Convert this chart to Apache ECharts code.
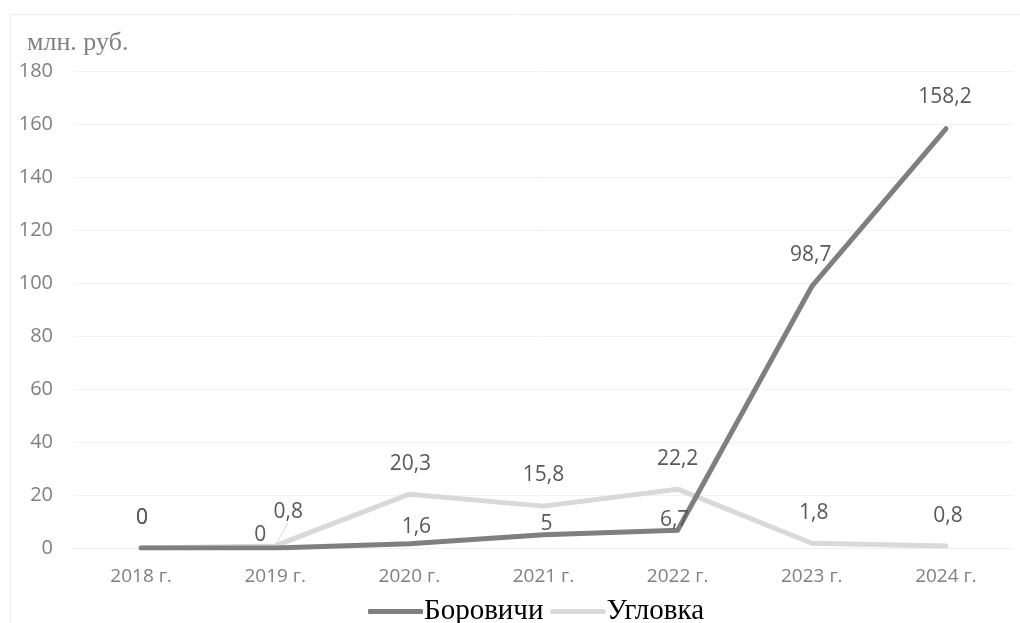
<!DOCTYPE html>
<html>
<head>
<meta charset="utf-8">
<script src="https://cdn.jsdelivr.net/npm/echarts@6/dist/echarts.min.js"></script>
<style>
html,body{margin:0;padding:0;background:#fff;}
#chart{width:1020px;height:623px;}
</style>
</head>
<body>
<div id="chart"></div>
<script>
const categories = ['2018 г.', '2019 г.', '2020 г.', '2021 г.', '2022 г.', '2023 г.', '2024 г.'];
const borovichi = [0, 0, 1.6, 5, 6.7, 98.7, 158.2];
const uglovka = [0, 0.8, 20.3, 15.8, 22.2, 1.8, 0.8];
const seriesNames = ['Боровичи', 'Угловка'];
const unitLabel = 'млн. руб.';

// label placement tweaks (styling, not data)
const offB = [[1,-30],[-15,-13],[7,-17],[3,-11],[-3,-10],[-1,-31],[-1,-32]];
const offU = [[1,-30],[13,-34],[1,-30],[0,-31],[0,-30],[2,-30],[2,-30]];

function fmt(v){ return String(v).replace('.', ','); }

function buildData(vals, offs, leaderIdx){
  return vals.map((v,i)=>{
    const item = { value: v, label: { offset: offs[i] } };
    if (i === leaderIdx) {
      item.labelLine = { show: true, lineStyle: { color: '#d9d9d9', width: 1 } };
    }
    return item;
  });
}

const labelBase = {
  show: true,
  position: 'inside',
  fontFamily: 'Open Sans',
  fontSize: 21,
  color: '#595959',
  formatter: p => fmt(p.value)
};

const chart = echarts.init(document.getElementById('chart'), null, {renderer: 'canvas'});
chart.setOption({
  animation: false,
  backgroundColor: '#fff',
  graphic: [{
    type: 'rect',
    shape: { x: 10.5, y: 14.5, width: 1020, height: 620 },
    style: { fill: 'none', stroke: '#ededed', lineWidth: 1 },
    silent: true
  }],
  title: {
    text: unitLabel,
    left: 22,
    top: 25,
    textStyle: { fontFamily: 'Liberation Serif', fontSize: 26, fontWeight: 'normal', color: '#808080' }
  },
  legend: {
    left: 363,
    top: 592,
    itemWidth: 55,
    itemHeight: 5,
    itemGap: 7,
    icon: 'roundRect',
    textStyle: { fontFamily: 'Liberation Serif', fontSize: 29, color: '#000', padding: [0,0,0,-4] },
    data: seriesNames
  },
  grid: { left: 74, right: 7, top: 71, bottom: 75, containLabel: false },
  xAxis: {
    type: 'category',
    data: categories,
    boundaryGap: true,
    axisLine: { show: true, lineStyle: { color: '#eeeeee', width: 1 } },
    axisTick: { show: false },
    axisLabel: { fontFamily: 'Open Sans', fontSize: 19, color: '#808080', margin: 19, lineHeight: 20 }
  },
  yAxis: {
    type: 'value',
    min: 0, max: 180, interval: 20,
    axisLine: { show: false },
    axisTick: { show: false },
    splitLine: { lineStyle: { color: '#f2f2f2', width: 1 } },
    axisLabel: { fontFamily: 'Open Sans', fontSize: 20, color: '#808080', margin: 21 }
  },
  series: [
    {
      name: seriesNames[0],
      type: 'line',
      data: buildData(borovichi, offB, -1),
      symbol: 'circle',
      symbolSize: 0.01,
      itemStyle: { color: '#7f7f7f' },
      lineStyle: { color: '#7f7f7f', width: 5, cap: 'round', join: 'round' },
      label: labelBase,
      z: 3
    },
    {
      name: seriesNames[1],
      type: 'line',
      data: buildData(uglovka, offU, 1),
      symbol: 'circle',
      symbolSize: 0.01,
      itemStyle: { color: '#d9d9d9' },
      lineStyle: { color: '#d9d9d9', width: 5, cap: 'round', join: 'round' },
      label: labelBase,
      z: 2
    }
  ]
});
</script>
</body>
</html>
